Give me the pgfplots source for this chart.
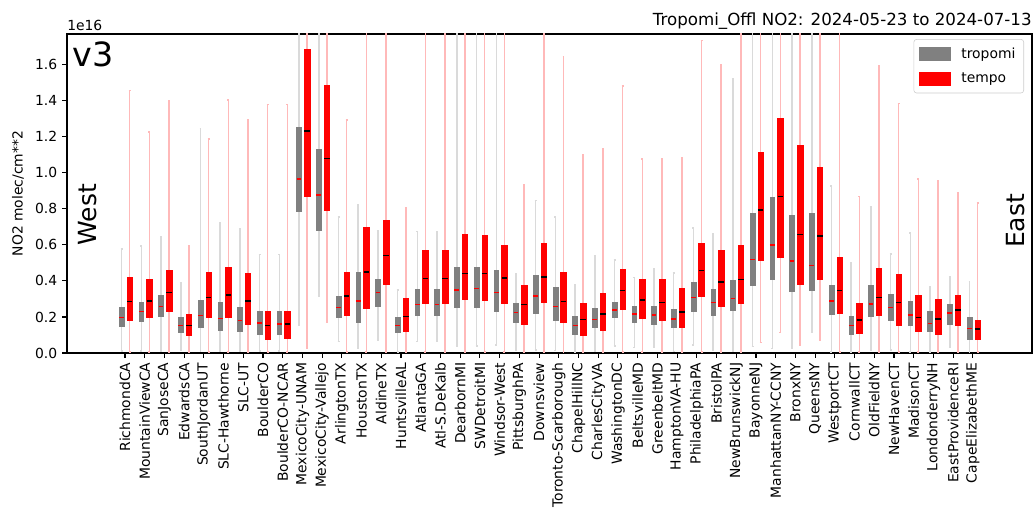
\documentclass[border=0pt]{standalone}
\usepackage{pgfplots}
\pgfplotsset{compat=1.18}
\usepackage{pgfplotstable}
\usepgfplotslibrary{statistics}
\usepackage{fontspec}
\setmainfont{DejaVu Sans}

% tropomi: lower whisker, lower quartile, median, upper quartile, upper whisker (1e16 molec/cm2)
\pgfplotstableread{
lw lq med uq uw
0.010 0.146 0.196 0.254 0.578
0.010 0.178 0.230 0.283 0.593
0.010 0.206 0.259 0.319 0.646
0.017 0.113 0.152 0.196 0.391
0.010 0.141 0.209 0.291 1.244
0.010 0.128 0.191 0.281 0.720
0.010 0.119 0.180 0.254 0.689
0.010 0.106 0.165 0.233 0.546
0.010 0.106 0.161 0.230 0.546
0.156 0.785 0.965 1.250 2.500
0.317 0.680 0.878 1.128 2.500
0.063 0.196 0.252 0.313 0.754
0.026 0.171 0.289 0.446 0.822
0.072 0.257 0.335 0.410 0.678
0.005 0.113 0.152 0.198 0.350
0.063 0.211 0.270 0.356 0.674
0.063 0.211 0.270 0.356 0.674
0.039 0.254 0.350 0.476 2.500
0.039 0.254 0.357 0.476 2.500
0.044 0.233 0.335 0.461 2.500
0.017 0.169 0.224 0.276 0.437
0.017 0.220 0.317 0.431 0.846
0.013 0.183 0.257 0.363 0.756
0.005 0.102 0.152 0.204 0.381
0.008 0.143 0.187 0.248 0.541
0.039 0.196 0.239 0.281 0.517
0.031 0.169 0.217 0.261 0.420
0.030 0.161 0.211 0.261 0.465
0.008 0.141 0.189 0.243 0.443
0.044 0.233 0.309 0.391 0.694
0.017 0.207 0.281 0.356 0.659
0.008 0.235 0.303 0.405 1.520
0.035 0.374 0.520 0.776 2.500
0.026 0.411 0.600 0.865 2.500
0.026 0.341 0.511 0.765 2.500
0.113 0.348 0.485 0.776 2.500
0.005 0.217 0.289 0.374 0.928
0.005 0.106 0.152 0.204 0.502
0.017 0.202 0.272 0.374 0.813
0.017 0.183 0.252 0.326 0.550
0.005 0.156 0.211 0.289 0.665
0.005 0.120 0.163 0.230 0.369
0.030 0.157 0.222 0.272 0.422
0.005 0.078 0.135 0.198 0.393
}\tropomi

% tempo
\pgfplotstableread{
lw lq med uq uw
0.005 0.183 0.285 0.422 1.456
0.005 0.198 0.289 0.409 1.226
0.005 0.233 0.335 0.459 1.400
0.005 0.098 0.152 0.217 0.593
0.005 0.200 0.307 0.446 1.187
0.005 0.196 0.322 0.476 1.404
0.005 0.161 0.289 0.444 1.293
0.005 0.078 0.152 0.231 1.378
0.005 0.083 0.161 0.230 1.378
0.026 0.867 1.233 1.683 2.500
0.169 0.794 1.078 1.485 2.500
0.005 0.211 0.315 0.448 1.294
0.005 0.247 0.450 0.698 2.500
0.005 0.383 0.542 0.735 2.500
0.005 0.119 0.202 0.302 0.804
0.005 0.276 0.413 0.572 2.500
0.005 0.276 0.413 0.572 2.500
0.005 0.298 0.441 0.661 2.500
0.005 0.291 0.441 0.652 2.500
0.005 0.276 0.415 0.596 2.500
0.005 0.161 0.269 0.374 0.931
0.005 0.281 0.422 0.611 2.500
0.005 0.170 0.285 0.446 1.646
0.005 0.100 0.187 0.276 1.100
0.005 0.124 0.217 0.331 1.135
0.005 0.243 0.348 0.465 1.480
0.005 0.191 0.294 0.411 1.076
0.005 0.183 0.280 0.409 1.076
0.005 0.144 0.228 0.359 1.085
0.005 0.313 0.457 0.611 1.733
0.005 0.257 0.393 0.569 1.598
0.005 0.276 0.407 0.600 2.500
0.057 0.517 0.793 1.115 2.500
0.113 0.531 0.869 1.300 2.500
0.041 0.381 0.657 1.150 2.500
0.072 0.411 0.648 1.028 2.500
0.005 0.220 0.348 0.530 2.500
0.005 0.107 0.183 0.274 0.869
0.005 0.207 0.309 0.472 1.591
0.005 0.154 0.280 0.439 1.385
0.005 0.119 0.196 0.319 0.965
0.005 0.106 0.189 0.298 0.957
0.005 0.156 0.239 0.322 0.891
0.005 0.076 0.133 0.181 0.831
}\tempo

\definecolor{tgray}{RGB}{128,128,128}
\definecolor{wgray}{RGB}{218,218,218}
\definecolor{wred}{RGB}{255,185,185}

\pgfplotsset{
  tropstyle/.style={forget plot,
    boxplot/draw direction=y,
    boxplot/box extend=0.24, boxplot/whisker extend=0.1,
    boxplot/every box/.style={draw=tgray, fill=tgray, line width=0.4pt},
    boxplot/every whisker/.style={draw=wgray, line width=1.1pt},
    boxplot/every median/.style={draw=red, line width=1.1pt}},
  tempostyle/.style={forget plot,
    boxplot/draw direction=y,
    boxplot/box extend=0.28, boxplot/whisker extend=0.1,
    boxplot/every box/.style={draw=red, fill=red, line width=0.4pt},
    boxplot/every whisker/.style={draw=wred, line width=1.1pt},
    boxplot/every median/.style={draw=black, line width=1.1pt}},
}

\newcommand\getbox[2]{%
  \pgfplotstablegetelem{#1}{lw}\of#2\let\blw\pgfplotsretval
  \pgfplotstablegetelem{#1}{lq}\of#2\let\blq\pgfplotsretval
  \pgfplotstablegetelem{#1}{med}\of#2\let\bmed\pgfplotsretval
  \pgfplotstablegetelem{#1}{uq}\of#2\let\buq\pgfplotsretval
  \pgfplotstablegetelem{#1}{uw}\of#2\let\buw\pgfplotsretval}

\begin{document}
\begin{tikzpicture}
\begin{axis}[
  name=ax, at={(0,0)}, anchor=south west,
  scale only axis, width=694.8pt, height=229.68pt,
  xmin=-2.94, xmax=46.0, ymin=0, ymax=1.77,
  xtick={0,...,43},
  xticklabels={RichmondCA,MountainViewCA,SanJoseCA,EdwardsCA,SouthJordanUT,SLC-Hawthorne,SLC-UT,BoulderCO,BoulderCO-NCAR,MexicoCity-UNAM,MexicoCity-Vallejo,ArlingtonTX,HoustonTX,AldineTX,HuntsvilleAL,AtlantaGA,Atl-S.DeKalb,DearbornMI,SWDetroitMI,Windsor-West,PittsburghPA,Downsview,Toronto-Scarborough,ChapelHillNC,CharlesCityVA,WashingtonDC,BeltsvilleMD,GreenbeltMD,HamptonVA-HU,PhiladelphiaPA,BristolPA,NewBrunswickNJ,BayonneNJ,ManhattanNY-CCNY,BronxNY,QueensNY,WestportCT,CornwallCT,OldFieldNY,NewHavenCT,MadisonCT,LondonderryNH,EastProvidenceRI,CapeElizabethME},
  xticklabel style={rotate=90, anchor=east, font=\fontsize{10}{12}\selectfont},
  ytick={0,0.2,0.4,0.6,0.8,1.0,1.2,1.4,1.6},
  yticklabel style={font=\fontsize{10}{12}\selectfont, /pgf/number format/.cd, fixed, fixed zerofill, precision=1},
  /pgf/number format/assume math mode=true,
  scaled y ticks=false,
  tick align=outside, major tick length=3.5pt,
  xtick pos=lower, ytick pos=left,
  tick style={black, line width=0.8pt},
  axis line style={line width=0.8pt},
  clip mode=individual,
  legend cell align=left,
  legend style={at={(rel axis cs:0.9917,0.984)}, anchor=north east, draw=black!20, rounded corners=2pt,
    font=\fontsize{10}{12}\selectfont, row sep=5pt, inner sep=4pt},
]
\addlegendimage{legend image code/.code={\fill[tgray, sharp corners] (0pt,-4.7pt) rectangle (22pt,4.7pt); \path[draw=none, fill=none] (22pt,0pt) -- (28pt,0pt);}}
\addlegendentry{tropomi}
\addlegendimage{legend image code/.code={\fill[red, sharp corners] (0pt,-4.7pt) rectangle (22pt,4.7pt); \path[draw=none, fill=none] (22pt,0pt) -- (28pt,0pt);}}
\addlegendentry{tempo}

\pgfplotsinvokeforeach{0,...,43}{
  \getbox{#1}{\tropomi}%
  \edef\doplot{\noexpand\addplot[tropstyle, boxplot prepared={draw position=#1-0.17, lower whisker=\blw, lower quartile=\blq, median=\bmed, upper quartile=\buq, upper whisker=\buw}] coordinates {};}%
  \doplot
  \getbox{#1}{\tempo}%
  \edef\doplot{\noexpand\addplot[tempostyle, boxplot prepared={draw position=#1+0.24, lower whisker=\blw, lower quartile=\blq, median=\bmed, upper quartile=\buq, upper whisker=\buw}] coordinates {};}%
  \doplot
}

\node[anchor=base east, inner sep=0pt, font=\fontsize{12}{14}\selectfont] at ([yshift=5.8pt]rel axis cs:1,1) {Tropomi\_Offl NO2: 2024-05-23 to 2024-07-13};
\node[anchor=base west, inner sep=0pt, font=\fontsize{10}{12}\selectfont] at ([yshift=2.5pt]rel axis cs:0,1) {1e16};
\node[anchor=base west, inner sep=0pt, font=\fontsize{24}{28}\selectfont] at ([xshift=3.8pt, yshift=-23.6pt]rel axis cs:0,1) {v3};
\node[rotate=90, inner sep=0pt, font=\fontsize{18}{22}\selectfont] at (axis cs:-1.9,0.767) {West};
\node[rotate=90, inner sep=0pt, font=\fontsize{18}{22}\selectfont] at (axis cs:45.18,0.733) {East};
\node[rotate=90, inner sep=0pt, font=\fontsize{10}{12}\selectfont] at ([xshift=-35.3pt]rel axis cs:0,0.5) {NO2 molec/cm**2};
\end{axis}
\pgfresetboundingbox
\path[use as bounding box] (-48.24pt,-117.36pt) rectangle (697.68pt,254.16pt);
\end{tikzpicture}
\end{document}
